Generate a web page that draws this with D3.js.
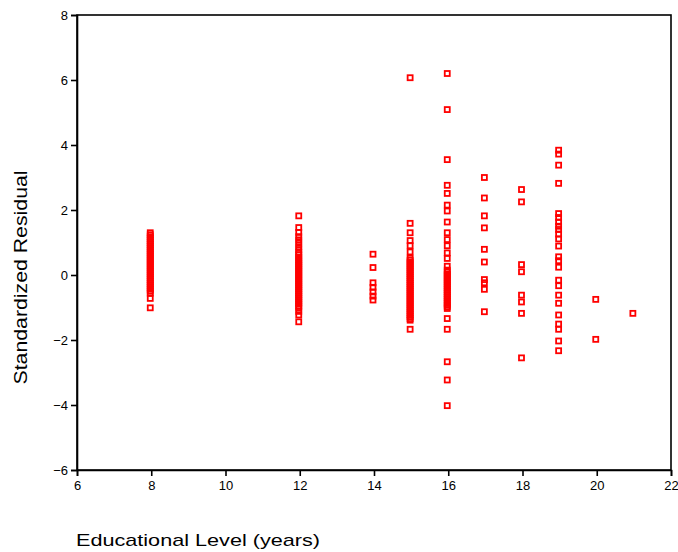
<!DOCTYPE html>
<html>
<head>
<meta charset="utf-8">
<script src="https://cdn.jsdelivr.net/npm/d3@7"></script>
<style>
  html, body { margin: 0; padding: 0; background: #fff; }
  svg { display: block; font-family: Arial, "Liberation Sans", sans-serif; }
</style>
</head>
<body>
<svg id="chart" width="678" height="552"></svg>
<script>
// Standardized residuals grouped by years of education
const educationLevels = [8, 12, 14, 15, 16, 17, 18, 19, 20, 21];

const residEdu8 = [1.30, 1.24, 1.18, 1.12, 1.06, 1.00, 0.94, 0.88, 0.82, 0.76, 0.70, 0.64,
  0.58, 0.52, 0.46, 0.40, 0.34, 0.28, 0.22, 0.16, 0.10, 0.04, -0.02, -0.08, -0.14, -0.20,
  -0.26, -0.32, -0.38, -0.44, -0.50, -0.56, -0.72, -1.01];
const residEdu12 = [1.82, 1.46, 1.31, 1.18, 1.08, 0.98, 0.87, 0.78, 0.69, 0.62, 0.55, 0.48,
  0.42, 0.36, 0.30, 0.24, 0.18, 0.12, 0.06, 0.00, -0.06, -0.12, -0.18, -0.24, -0.30, -0.36,
  -0.42, -0.48, -0.54, -0.60, -0.66, -0.72, -0.78, -0.84, -0.90, -0.96, -1.02, -1.12,
  -1.23, -1.44];
const residEdu14 = [0.64, 0.23, -0.24, -0.38, -0.52, -0.65, -0.77];
const residEdu15 = [6.07, 1.59, 1.30, 1.06, 0.90, 0.71, 0.52, 0.46, 0.40, 0.34, 0.28, 0.22,
  0.16, 0.10, 0.04, -0.02, -0.08, -0.14, -0.20, -0.26, -0.32, -0.38, -0.44, -0.50, -0.56,
  -0.62, -0.68, -0.74, -0.80, -0.86, -0.92, -0.98, -1.04, -1.10, -1.16, -1.22, -1.28,
  -1.34, -1.39, -1.67];
const residEdu16 = [6.20, 5.09, 3.55, 2.76, 2.51, 2.15, 1.97, 1.63, 1.30, 1.09, 0.90, 0.68,
  0.51, 0.27, 0.15, 0.09, 0.03, -0.03, -0.09, -0.15, -0.21, -0.27, -0.33, -0.39, -0.45,
  -0.51, -0.57, -0.63, -0.69, -0.75, -0.81, -0.87, -0.93, -0.98, -1.03, -1.34, -1.67,
  -2.67, -3.23, -4.02];
const residEdu17 = [3.00, 2.37, 1.82, 1.45, 0.79, 0.40, -0.14, -0.24, -0.44, -1.13];
const residEdu18 = [2.63, 2.25, 0.32, 0.10, -0.62, -0.83, -1.18, -2.55];
const residEdu19 = [3.84, 3.72, 3.38, 2.82, 1.89, 1.77, 1.63, 1.50, 1.40, 1.26, 1.11, 0.89,
  0.56, 0.44, 0.24, -0.16, -0.33, -0.62, -0.87, -1.23, -1.51, -1.67, -2.03, -2.33];
const residEdu20 = [-0.75, -1.98];
const residEdu21 = [-1.18];

const residualGroups = [residEdu8, residEdu12, residEdu14, residEdu15, residEdu16,
  residEdu17, residEdu18, residEdu19, residEdu20, residEdu21];

const xTicks = [6, 8, 10, 12, 14, 16, 18, 20, 22];
const yTicks = [-6, -4, -2, 0, 2, 4, 6, 8];

const xTitle = "Educational Level (years)";
const yTitle = "Standardized Residual";

// Flatten into point records
const points = [];
educationLevels.forEach((edu, i) => {
  residualGroups[i].forEach(r => points.push({ edu, r }));
});

const svg = d3.select("#chart");
const plotLeft = 77, plotRight = 671, plotTop = 15, plotBottom = 470;

const x = d3.scaleLinear().domain([6, 22]).range([plotLeft, plotRight]);
const y = d3.scaleLinear().domain([-6, 8]).range([plotBottom, plotTop]);

// Frame around the plotting area
svg.append("rect")
  .attr("x", plotLeft).attr("y", plotTop)
  .attr("width", plotRight - plotLeft).attr("height", plotBottom - plotTop)
  .attr("fill", "none").attr("stroke", "#000").attr("stroke-width", 1.6);

const xAxis = svg.append("g")
  .attr("transform", `translate(0,${plotBottom})`)
  .call(d3.axisBottom(x).tickValues(xTicks).tickFormat(d3.format("d"))
    .tickSize(6).tickPadding(5));

const yAxis = svg.append("g")
  .attr("transform", `translate(${plotLeft},0)`)
  .call(d3.axisLeft(y).tickValues(yTicks).tickFormat(d3.format("d"))
    .tickSize(6).tickPadding(3));

[xAxis, yAxis].forEach(g => {
  g.select(".domain").attr("stroke", "#000").attr("stroke-width", 1.6);
  g.selectAll(".tick line").attr("stroke", "#000").attr("stroke-width", 1.6);
  g.selectAll(".tick text")
    .attr("fill", "#000")
    .style("font-family", "Arial, 'Liberation Sans', sans-serif")
    .style("font-size", "13px");
});

// Hollow square markers
const s = 5;
svg.append("g")
  .selectAll("rect")
  .data(points)
  .join("rect")
  .attr("x", d => x(d.edu) - s / 2 - 1)
  .attr("y", d => y(d.r) - s / 2)
  .attr("width", s)
  .attr("height", s)
  .attr("fill", "none")
  .attr("stroke", "#ff0000")
  .attr("stroke-width", 1.8);

// Axis titles
svg.append("text")
  .attr("x", 76)
  .attr("y", 546)
  .attr("fill", "#000")
  .attr("textLength", 244)
  .attr("lengthAdjust", "spacingAndGlyphs")
  .style("font-size", "17px")
  .text(xTitle);

svg.append("text")
  .attr("transform", `translate(27,${(plotTop + plotBottom) / 2 + 35}) rotate(-90)`)
  .attr("text-anchor", "middle")
  .attr("fill", "#000")
  .attr("textLength", 214)
  .attr("lengthAdjust", "spacingAndGlyphs")
  .style("font-size", "17.5px")
  .text(yTitle);
</script>
</body>
</html>
